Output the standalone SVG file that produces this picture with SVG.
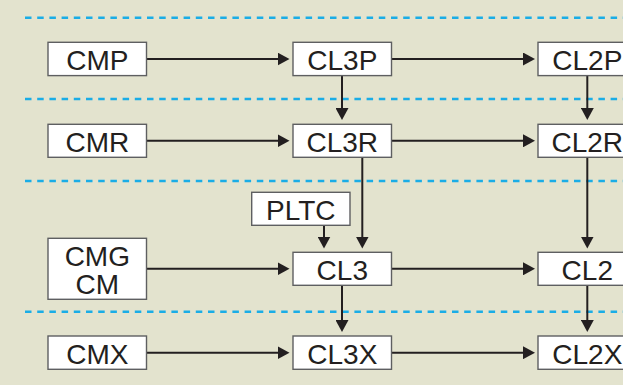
<svg xmlns="http://www.w3.org/2000/svg" width="623" height="385" viewBox="0 0 623 385">
<defs>
<marker id="ah" viewBox="0 0 12 13" markerWidth="12" markerHeight="13" markerUnits="userSpaceOnUse" refX="8" refY="6.5" orient="auto">
<path d="M0,0 L12,6.5 L0,13 Z" fill="#231f20"/>
</marker>
<style>
.box{fill:#ffffff;stroke:#5e5f61;stroke-width:1.4}
.t{font-family:"Liberation Sans",Arial,sans-serif;font-size:28px;fill:#231f20;text-anchor:middle}
.dash{stroke:#1aade6;stroke-width:2.4;stroke-dasharray:6.5 5.7;fill:none}
.c{stroke:#231f20;stroke-width:2;fill:none;marker-end:url(#ah)}
</style>
</defs>
<rect x="0" y="0" width="623" height="385" fill="#e3e3ce"/>
<g id="separators">
<line class="dash" x1="25" y1="17.7" x2="623" y2="17.7"/>
<line class="dash" x1="25" y1="99" x2="623" y2="99"/>
<line class="dash" x1="25" y1="181" x2="623" y2="181"/>
<line class="dash" x1="25" y1="311.7" x2="623" y2="311.7"/>
</g>
<g id="connectors">
<line class="c" x1="146.5" y1="59" x2="285.5" y2="59"/>
<line class="c" x1="391.5" y1="59" x2="531" y2="59"/>
<line class="c" x1="146.5" y1="140.8" x2="285.5" y2="140.8"/>
<line class="c" x1="391.5" y1="140.8" x2="531" y2="140.8"/>
<line class="c" x1="146.5" y1="268.8" x2="285.5" y2="268.8"/>
<line class="c" x1="391.5" y1="268.8" x2="531" y2="268.8"/>
<line class="c" x1="146.5" y1="352.7" x2="285.5" y2="352.7"/>
<line class="c" x1="391.5" y1="352.7" x2="531" y2="352.7"/>
<line class="c" x1="342" y1="75.6" x2="342" y2="116"/>
<line class="c" x1="587.3" y1="75.6" x2="587.3" y2="116"/>
<line class="c" x1="362.3" y1="157.3" x2="362.3" y2="244.5"/>
<line class="c" x1="324" y1="225.3" x2="324" y2="244.5"/>
<line class="c" x1="587.3" y1="157.3" x2="587.3" y2="244.5"/>
<line class="c" x1="342" y1="285.3" x2="342" y2="328"/>
<line class="c" x1="587.3" y1="285.3" x2="587.3" y2="328"/>
</g>
<g id="CMP"><rect class="box" x="48" y="42.3" width="98.5" height="33.3"/><text class="t" x="97.3" y="70">CMP</text></g>
<g id="CL3P"><rect class="box" x="293" y="42.3" width="98.5" height="33.3"/><text class="t" x="342.3" y="70">CL3P</text></g>
<g id="CL2P"><rect class="box" x="538" y="42.3" width="98.5" height="33.3"/><text class="t" x="587.3" y="70">CL2P</text></g>
<g id="CMR"><rect class="box" x="48" y="124.3" width="98.5" height="33"/><text class="t" x="97.3" y="152">CMR</text></g>
<g id="CL3R"><rect class="box" x="293" y="124.3" width="98.5" height="33"/><text class="t" x="342.3" y="152">CL3R</text></g>
<g id="CL2R"><rect class="box" x="538" y="124.3" width="98.5" height="33"/><text class="t" x="587.3" y="152">CL2R</text></g>
<g id="PLTC"><rect class="box" x="251.7" y="192.3" width="98.3" height="33"/><text class="t" x="300.8" y="219.5">PLTC</text></g>
<g id="CMG-CM"><rect class="box" x="48" y="238.3" width="98.5" height="61"/><text class="t" x="97.3" y="266">CMG</text><text class="t" x="97.3" y="293.5">CM</text></g>
<g id="CL3"><rect class="box" x="293" y="252.3" width="98.5" height="33"/><text class="t" x="342.3" y="280">CL3</text></g>
<g id="CL2"><rect class="box" x="538" y="252.3" width="98.5" height="33"/><text class="t" x="587.3" y="280">CL2</text></g>
<g id="CMX"><rect class="box" x="48" y="336" width="98.5" height="33.3"/><text class="t" x="97.3" y="364">CMX</text></g>
<g id="CL3X"><rect class="box" x="293" y="336" width="98.5" height="33.3"/><text class="t" x="342.3" y="364">CL3X</text></g>
<g id="CL2X"><rect class="box" x="538" y="336" width="98.5" height="33.3"/><text class="t" x="587.3" y="364">CL2X</text></g>
</svg>
